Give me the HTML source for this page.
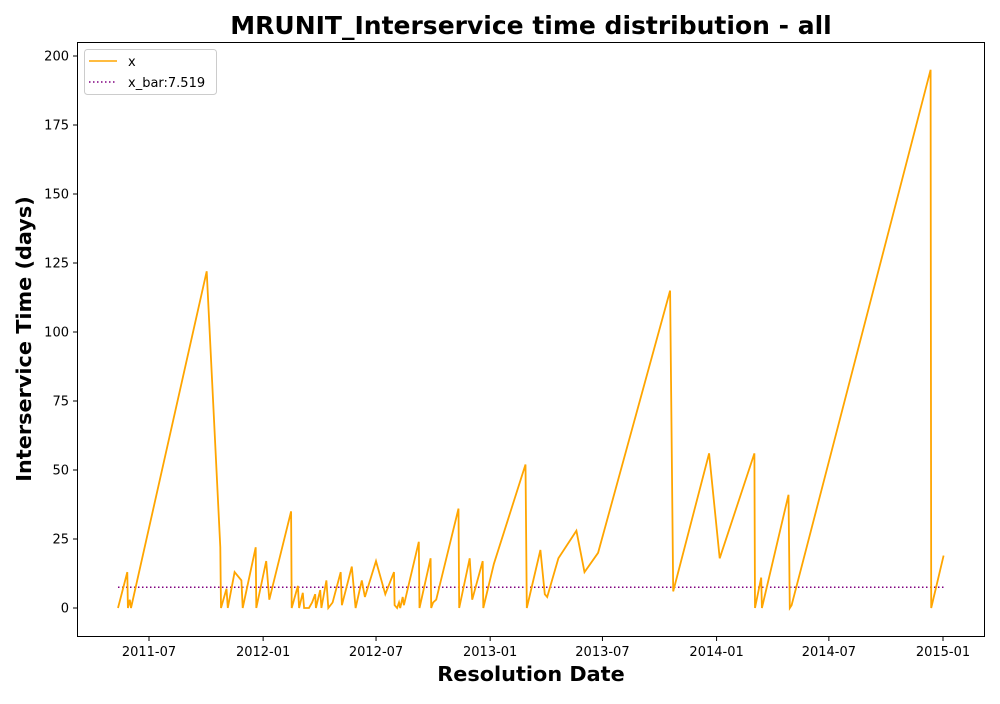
<!DOCTYPE html>
<html><head><meta charset="utf-8"><style>
body{margin:0;background:#fff;font-family:"DejaVu Sans",sans-serif}
svg text{font-family:"DejaVu Sans",sans-serif}
</style></head><body>
<svg id="chart" width="1000" height="700" xmlns="http://www.w3.org/2000/svg">
<rect width="1000" height="700" fill="#fff"/>
<text x="531" y="34" text-anchor="middle" font-size="25" font-weight="bold">MRUNIT_Interservice time distribution - all</text>
<text x="531" y="681" text-anchor="middle" font-size="20.8" font-weight="bold">Resolution Date</text>
<text transform="translate(31,339) rotate(-90)" text-anchor="middle" font-size="20.8" font-weight="bold">Interservice Time (days)</text>
<g id="marks"></g>
<rect x="77.5" y="42.5" width="907" height="594" fill="none" stroke="#000" stroke-width="1"/>
<g>
<rect x="84.5" y="49.5" width="132" height="45" rx="3" fill="#fff" stroke="#ccc"/>
<line x1="89" y1="61" x2="117" y2="61" stroke="orange" stroke-width="1.5"/>
<text x="128" y="66" font-size="13">x</text>
<line x1="89" y1="82" x2="117" y2="82" stroke="purple" stroke-width="1.5" stroke-dasharray="1.5,2.5"/>
<text x="128" y="87" font-size="13">x_bar:7.519</text>
</g>
</svg>
<script>
const dates=["2011-05-12","2011-05-27","2011-05-28","2011-05-31","2011-06-02","2011-10-02","2011-10-24","2011-10-25","2011-11-03","2011-11-05","2011-11-16","2011-11-27","2011-11-29","2011-12-20","2011-12-21","2012-01-06","2012-01-11","2012-02-15","2012-02-16","2012-02-26","2012-02-28","2012-03-05","2012-03-07","2012-03-15","2012-03-20","2012-03-25","2012-03-26","2012-04-02","2012-04-04","2012-04-12","2012-04-15","2012-04-22","2012-05-05","2012-05-07","2012-05-23","2012-05-29","2012-06-08","2012-06-13","2012-07-01","2012-07-16","2012-07-30","2012-07-31","2012-08-04","2012-08-07","2012-08-09","2012-08-13","2012-08-15","2012-09-08","2012-09-09","2012-09-27","2012-09-28","2012-10-01","2012-10-06","2012-11-11","2012-11-12","2012-11-29","2012-12-03","2012-12-20","2012-12-21","2013-01-07","2013-02-27","2013-03-01","2013-03-23","2013-03-30","2013-04-03","2013-04-21","2013-05-20","2013-06-02","2013-06-24","2013-10-18","2013-10-23","2013-12-20","2014-01-06","2014-03-03","2014-03-04","2014-03-14","2014-03-15","2014-04-27","2014-04-29","2014-05-02","2014-12-12","2014-12-13","2015-01-02"];
const values=[0,13,0,3,0,122,22,0,7,0,13,10,0,22,0,17,3,35,0,8,0,5.5,0,0,2,5,0,6.5,0,10,0,2,13,1,15,0,10,4,17,5,13,1,0,2,0,4,1,24,0,18,0,2,3,36,0,18,3,17,0,16,52,0,21,5,4,18,28,13,20,115,6,56,18,56,0,11,0,41,0,1,195,0,19];
const meanValue=7.519;
const xTickLabels=["2011-07","2012-01","2012-07","2013-01","2013-07","2014-01","2014-07","2015-01"];
const yTickValues=[0,25,50,75,100,125,150,175,200];

const t0=Date.parse("2011-07-01"),t1=Date.parse("2015-01-01");
function xs(d){return 149+(Date.parse(d.length===7?d+"-01":d)-t0)/(t1-t0)*794;}
function ys(v){return 608-v*2.76;}
const NS="http://www.w3.org/2000/svg";
const g=document.getElementById("marks");
function mk(tag,attrs){const e=document.createElementNS(NS,tag);for(const k in attrs)e.setAttribute(k,attrs[k]);g.appendChild(e);return e;}
xTickLabels.forEach(l=>{const x=xs(l);
 const t=mk("line",{x1:x,x2:x,y1:636.5,y2:641,stroke:"#000"});
 
 
 const tx=mk("text",{x:x,y:656,"text-anchor":"middle","font-size":"13"});tx.textContent=l;
 
 
});
yTickValues.forEach(v=>{const y=ys(v);
 const t=mk("line",{x1:73,x2:77.5,y1:y,y2:y,stroke:"#000"});
 
 
 const tx=mk("text",{x:69,y:y+4.5,"text-anchor":"end","font-size":"13"});tx.textContent=v;
 
 
});
const ml=mk("line",{x1:xs(dates[0]),x2:xs(dates[dates.length-1]),y1:ys(meanValue),y2:ys(meanValue),stroke:"purple","stroke-width":"1.5","stroke-dasharray":"1.5,2.5"});


const pts=dates.map((d,i)=>xs(d).toFixed(1)+","+ys(values[i]).toFixed(1)).join(" ");
const pl=mk("polyline",{points:pts,fill:"none",stroke:"orange","stroke-width":"1.8","stroke-linejoin":"miter"});


</script>
</body></html>
